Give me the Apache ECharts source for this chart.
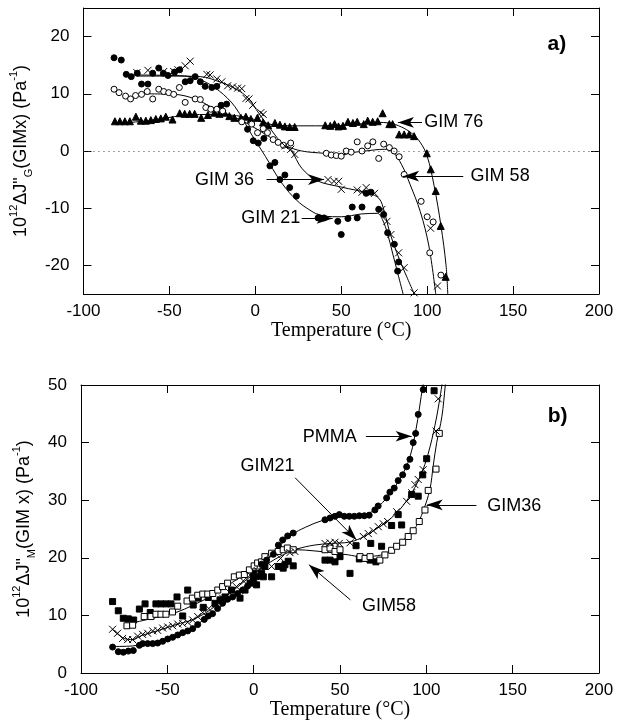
<!DOCTYPE html>
<html lang="en">
<head>
<meta charset="UTF-8">
<title>GIM compliance vs temperature</title>
<script src="https://cdn.jsdelivr.net/npm/echarts@6/dist/echarts.min.js"></script>
<style>
  html, body { margin: 0; padding: 0; background: #fff; }
  #main { width: 625px; height: 724px; }
</style>
</head>
<body>
<div id="main"></div>
<script>
// ---------- panel a) : 10^12 dJ''_G (GIMx) ----------
var gim21a = [[-82.2,16.3],[-78,15.9],[-75.1,13.4],[-72.2,13.0],[-68.7,13.6],[-66.2,11.7],[-62.5,11.7],[-59.7,13.6],[-56.2,14.5],
  [-53.5,13.6],[-50.8,13.2],[-47,13.8],[-44,14.2],[-40.8,12.1],[-37.9,12.3],[-35,13.0],[-32,12.1],[-29.2,11.3],[-25.3,11.1],
  [-22.4,11.3],[-19.9,8.0],[-16.7,8.2],[-4.5,3.8],[-1.2,1.8],[1.7,1.4],[5,2.2],[8.5,-2.6],[11.4,-2.0],[14.3,-5.0],[17.2,-4.2],
  [20,-6.4],[23.9,-7.9],[36.5,-11.7],[40,-11.7],[48,-12.3],[50,-14.6],[53.9,-11.8],[56.4,-9.8],[59.3,-11.7],[62.1,-9.8],
  [64.5,-7.4],[67.3,-7.2],[71.8,-10.2],[74.7,-11.1],[77,-14.3],[80.9,-16.3],[83.4,-19.4],[82.8,-21.0]];
var gim36a = [[-68.9,13.7],[-62.5,14.1],[-53.3,13.9],[-47.5,13.9],[-45,14.2],[-40.8,14.9],[-37.9,15.7],[-28.2,13.4],[-26.3,13.3],
  [-22.4,12.6],[-19.5,12.1],[-16.1,11.4],[-13.2,11.2],[-10.3,11.0],[-7.9,10.9],[-5.4,9.2],[-3.7,9.1],[-1.5,8.0],[3.2,6.7],
  [4.6,6.4],[17.2,0.9],[20.6,0.3],[23,-0.6],[42.3,-5.0],[45.8,-5.3],[48.5,-5.3],[50,-6.7],[59.3,-6.8],[62.1,-7.2],[64.5,-6.4],
  [69.4,-7.4],[73.7,-10.2],[76.6,-12.3],[78.9,-14.6],[83.4,-17.8],[86.6,-20.4],[92.4,-24.8],[102,-13.5],[106,-23.6]];
var gim58a = [[-82.2,10.8],[-79.3,10.2],[-75.5,9.6],[-72.6,9.1],[-69.7,9.7],[-66.2,9.9],[-62.9,10.4],[-59.7,9.1],[-56.2,10.8],
  [-53.3,10.4],[-50.4,10.2],[-47.5,9.9],[-44.2,11.1],[-40.8,8.5],[-35,9.1],[-32,9.0],[-28.8,7.6],[-25.9,7.3],[-22.4,7.3],
  [-19,7.0],[-7.9,5.1],[-2.1,4.7],[1.3,3.2],[4.6,3.9],[7.1,3.2],[10.4,2.0],[13.3,1.5],[16.4,1.0],[20.6,1.4],[41.3,-0.4],
  [44.2,-0.7],[47.1,-0.8],[50,-0.9],[52.9,0],[55.8,-0.2],[59.3,1.6],[62.1,0],[65.4,0.9],[68.4,1.6],[71.8,-1.3],[74.7,1.2],
  [78,0.6],[80.8,0],[83.7,-1.0],[86.6,-4.1],[96.5,-8.8],[100,-11.5],[103.5,-12.4],[101.5,-17.8],[108,-21.7]];
var gim76a = [[-81.7,5.2],[-78.8,5.2],[-75.9,5.2],[-73,5.2],[-69.5,6.0],[-66.6,5.3],[-63.7,5.3],[-60.8,5.4],[-57.9,5.6],
  [-55,5.7],[-52.1,6.0],[-48.2,5.5],[-44,6.6],[-41.1,6.5],[-38.2,6.5],[-35.3,6.5],[-31.5,5.8],[-27.6,6.3],[-23.8,6.7],
  [-20.9,6.5],[-18,6.7],[-15.1,6.1],[-12.2,5.8],[-8.4,5.8],[-5.5,6.0],[-2.6,5.6],[1.2,5.8],[4.5,5.0],[7.5,4.5],[11.4,4.9],
  [14.3,4.6],[17.2,4.3],[20,4.2],[22.9,4.2],[40.7,4.5],[43.6,4.4],[46.1,4.7],[48.4,4.3],[51,4.4],[53.9,5.1],[56.8,4.9],
  [59.3,5.1],[63.1,4.7],[65.4,5.3],[68.3,5.1],[71.2,5.2],[74.1,6.6],[78,4.7],[79.9,4.7],[83.7,2.9],[86.6,2.9],[89.5,2.9],
  [92.4,2.6],[99.8,-0.4],[102.1,-3.2],[105,-7.0],[107.9,-13.1],[110.8,-22.0]];

// fitted curves
var fit21a = [[-70,13.3],[-50,13.2],[-38,13.0],[-30,12.2],[-21,10.5],[-12,7.8],[-2,2.8],[6,-1],[14,-5],[22,-8],[30,-10],
  [40,-11.4],[50,-11.5],[62,-11],[71,-10.9],[74,-12],[77,-14.5],[80,-18],[83,-21.5],[86,-25]];
var fit36a = [[-69,13.1],[-50,13.1],[-32,13.0],[-20,12.0],[-11,10.8],[-4,9.2],[2,6.6],[8,4.2],[15,1.5],[21,0],[27,-3],
  [36,-5.2],[50,-6.3],[66,-7.4],[72,-8.3],[75,-10.5],[78,-14],[82,-17.5],[86,-20.5],[92.5,-25]];
var fit58a = [[-68,10],[-47,9.9],[-35,9.1],[-25,7.6],[-15,6.3],[-4,4.7],[7,2.7],[17,1.0],[27,0],[40,-0.4],[50,-0.7],
  [56,-0.3],[64,0],[75,0.3],[80,-0.2],[85,-2.3],[90,-5.8],[96,-10.6],[101,-16.6],[105,-25]];
var fit76a = [[-82,4.8],[-62,5.3],[-42,6.2],[-23,6.4],[-7,6.0],[5,5.0],[12,4.5],[25,4.4],[45,4.4],[60,4.7],[71,5.0],
  [78,4.9],[85,4.2],[91,3.1],[96,1.5],[100,-0.9],[104,-6],[108,-13],[111,-20],[112,-25]];
var ticksA = [-20, -10, 0, 10, 20];

// ---------- panel b) : 10^12 dJ''_M (GIM x) ----------
var pmmaB = [[-81.7,4.5],[-78.4,3.7],[-75.5,3.6],[-72.6,3.8],[-69.7,3.9],[-66.2,4.8],[-64.3,5.1],[-61.4,5.1],[-58.5,5.1],
  [-55.6,5.2],[-52.7,5.5],[-49.8,5.9],[-46.9,6.2],[-44,6.6],[-41.1,7.0],[-38.2,7.3],[-35.3,7.7],[-32.4,8.4],[-28.6,9.3],
  [-26.3,9.9],[-23.8,10.3],[-20.9,11.2],[-18,12.1],[-15.1,12.8],[-12.2,13.2],[-9.3,13.8],[-6.4,14.4],[-3.5,15.1],[-0.6,15.9],
  [2.3,16.7],[4.6,18.9],[7.5,19.6],[11.4,20.6],[14.3,22.2],[16.8,23.1],[19.7,23.8],[22.9,24.3],[41.3,26.6],[44.2,26.9],
  [47.1,27.2],[49.6,27.5],[52.5,27.2],[55.4,27.2],[58.3,27.2],[61.2,27.3],[64.1,27.3],[66.9,27.4],[70.2,28.3],[72.1,29.0],
  [77,30.4],[78.9,31.4],[81.4,32.1],[83.7,33.4],[86.3,34.4],[88.6,35.8],[90.5,37.1],[92.4,40.0],[93.8,41.6],[95.3,44.9],[98.2,49.2]];
var gim21b = [[-81.7,7.6],[-78.8,6.9],[-75.9,6.0],[-73,5.8],[-70.1,5.8],[-67.2,6.4],[-64.3,6.7],[-61.4,6.9],[-58.5,7.3],
  [-55.6,7.4],[-52.7,7.8],[-49.8,8.0],[-46.9,8.2],[-44,8.5],[-41.1,8.6],[-38.2,8.8],[-35.3,9.2],[-32.4,9.8],[-29.5,10.5],
  [-26,11.2],[-22,12],[-18,13],[-14,14],[-10,15],[-6,16],[-2,17],[2,17.8],[6,18.5],[10.4,18.5],[15.6,19.9],[21,20.9],
  [23.9,21.1],[41.3,22.5],[44.2,22.6],[47.1,22.7],[49.6,22.5],[55.8,22.6],[63.5,23.7],[66.4,24.2],[69.3,24.7],[72.2,25.4],
  [75.1,25.9],[77.6,26.3],[82.8,28.0],[88.6,29.8],[91.5,31.3],[93.4,32.7],[95.3,33.6],[98.2,35.3],[105.6,42.0],[106.9,47.6]];
var gim36b = [[-73.4,8.2],[-70.1,8.3],[-63.4,9.8],[-59.5,9.8],[-56.6,10.2],[-53.7,10.2],[-50.8,10.2],[-47,10.6],[-44,11.6],
  [-38.6,12.5],[-35.5,13.0],[-32.4,13.5],[-29.5,13.7],[-26.6,13.7],[-23.7,13.8],[-20.8,14.4],[-18,15.0],[-15.1,15.6],
  [-11.2,16.7],[-8.3,17.0],[-5.4,17.1],[-2.5,17.9],[0.3,18.6],[2.3,19.1],[4.6,19.3],[6.5,20.2],[10.4,20.8],[14.2,21.1],
  [17.1,21.4],[19.5,21.7],[22.9,21.4],[41.3,21.4],[44.2,21.7],[47.1,21.1],[50,21.4],[61.6,20.2],[64.5,19.9],[67.4,20.2],
  [73.1,19.6],[76,20.5],[79.9,21.3],[82.8,22.0],[86.3,22.7],[89.5,23.7],[92.4,24.7],[95.9,26.3],[99.2,28.3],[101.1,31.7],
  [105.6,35.4],[107.5,41.6]];
var gim58b = [[-81.7,12.4],[-78.4,10.8],[-75.5,9.5],[-72.6,9.4],[-69.5,9.2],[-66.2,11.1],[-62.9,12.0],[-59.9,10.5],[-56.6,12.0],
  [-53.7,12.0],[-50.8,12.0],[-47.9,12.0],[-44.4,13.2],[-41.1,9.9],[-38.2,14.4],[-35,11.8],[-32.1,13.0],[-29.2,11.4],[-26.3,13.1],
  [-22.4,12.1],[-19.5,12.7],[-16.6,13.2],[-12.8,14.4],[-7.9,13.0],[-5,14.4],[-2.1,15.6],[-0.2,17.3],[-0.2,16.2],[1.7,15.3],
  [4.6,17.3],[5.6,16.7],[6.5,18.5],[10.4,16.7],[14.3,18.5],[17.1,18.2],[18.1,18.8],[20,19.4],[22.9,18.6],[41.3,19.6],
  [44.2,19.6],[47.1,19.3],[50,20.2],[55.8,17.3],[59.3,22.1],[61.2,19.8],[64.5,19.9],[67.4,19.6],[67.8,22.5],[70.8,19.3],
  [74.1,22.0],[79.9,25.6],[83.7,27.5],[85.7,25.7],[91.5,31.0],[95.3,30.7],[97.9,34.4],[100.2,37.2],[104.5,49.0]];

var fitPmmaB = [[-82,4.6],[-70,4.7],[-62,5.1],[-50,5.9],[-40,7.1],[-30,9.0],[-20,11.3],[-10,13.8],[0,16.5],[5,18.6],[10,20.4],
  [15,22.1],[22,24.0],[30,25.3],[40,26.5],[50,27.1],[60,27.4],[67,27.8],[72,28.8],[77,30.4],[82,32.4],[86,34.4],[89,36.2],
  [92,39.2],[95,44],[97,48],[98.7,51]];
var fit21b = [[-82,7.6],[-75,6.0],[-70,5.8],[-65,6.5],[-55,7.4],[-45,8.4],[-35,9.3],[-25,11],[-15,13.5],[-5,16],[5,18.3],
  [15,20.2],[25,21.5],[35,22.2],[45,22.5],[55,22.7],[62,23.4],[70,24.8],[78,26.5],[85,28.5],[92,31.5],[97,34.5],[101,38],
  [105,43],[108,48],[110,52]];
var fit36b = [[-73,8.5],[-60,9.4],[-45,10.5],[-35,11.8],[-28,12.8],[-20,14.2],[-12,15.8],[-5,17.2],[2,18.7],[10,20.2],
  [17,21.1],[25,21.4],[35,21.2],[45,20.9],[55,20.5],[62,20.2],[70,20.3],[77,20.8],[83,22],[89,23.8],[94,25.4],[98,28],
  [102,31.8],[104,36],[106,40],[109,44.5],[111,50],[112,53]];

var myChart = echarts.init(document.getElementById('main'));
var sans = 'Liberation Sans', serif = 'Liberation Serif';
var ink = '#000';

// rich text for the rotated y titles (super / subscripts)
var nameRich = {
  n: { fontFamily: sans, fontSize: 18, color: ink, lineHeight: 26 },
  sup: { fontFamily: sans, fontSize: 11, color: ink, lineHeight: 12, verticalAlign: 'top' },
  sub: { fontFamily: sans, fontSize: 11, color: ink, lineHeight: 12, verticalAlign: 'bottom' }
};

function xAx(gi, pos) {
  var ax = {
    gridIndex: gi, type: 'value', min: -100, max: 200, interval: 50, position: pos,
    axisLine: { onZero: false, lineStyle: { color: ink, width: 1 } },
    axisTick: { inside: true, length: 8, lineStyle: { color: ink } },
    axisLabel: { show: pos === 'bottom', margin: 9, fontFamily: sans, fontSize: 17, color: ink },
    splitLine: { show: false }
  };
  if (pos === 'bottom') {
    ax.name = 'Temperature (°C)';
    ax.nameLocation = 'middle';
    ax.nameGap = 27;
    ax.nameTextStyle = { fontFamily: serif, fontSize: 20, color: ink };
  }
  return ax;
}
function yAx(gi, pos, min, max, ticks, name) {
  var ax = {
    gridIndex: gi, type: 'value', min: min, max: max, position: pos,
    axisLine: { onZero: false, lineStyle: { color: ink, width: 1 } },
    axisTick: { inside: true, length: 8, lineStyle: { color: ink } },
    axisLabel: { show: pos === 'left', margin: 14, fontFamily: sans, fontSize: 17, color: ink },
    splitLine: { show: false }
  };
  if (ticks) { ax.axisTick.customValues = ticks; ax.axisLabel.customValues = ticks; }
  else ax.interval = 10;
  if (name) {
    ax.name = name; ax.nameLocation = 'middle'; ax.nameRotate = 90; ax.nameGap = 42;
    ax.nameTextStyle = { rich: nameRich };
  }
  return ax;
}

function pts(data, xi, symbol, size, fill) {
  return { type: 'scatter', data: data, xAxisIndex: xi, yAxisIndex: xi, symbol: symbol, symbolSize: size,
    itemStyle: { color: fill, borderColor: ink, borderWidth: 1, opacity: 1 }, silent: true, z: 3 };
}
function fit(data, xi) {
  return { type: 'line', data: data, xAxisIndex: xi, yAxisIndex: xi, smooth: 0.35, showSymbol: false, symbol: 'none',
    lineStyle: { color: ink, width: 1 }, silent: true, z: 2 };
}
var cross = 'path://M0,0L10,10M10,0L0,10';

// labels and arrows, in data units
function notes(xi, texts, arrows, zeroLine) {
  var s = { type: 'line', data: [], xAxisIndex: xi, yAxisIndex: xi, silent: true, z: 4,
    markPoint: { silent: true, animation: false, data: texts.map(function (t) {
      return { coord: t.at, symbol: 'circle', symbolSize: 1, itemStyle: { color: 'rgba(0,0,0,0)' },
        label: { show: true, position: t.pos, distance: 0, formatter: t.text, fontFamily: sans,
          fontSize: t.size || 18, fontWeight: t.bold ? 'bold' : 'normal', color: ink } };
    }) },
    markLine: { silent: true, animation: false, symbol: ['none', 'arrow'], symbolSize: [8, 16],
      label: { show: false }, lineStyle: { color: ink, width: 1, type: 'solid' }, itemStyle: { color: ink },
      data: arrows.map(function (a) { return [{ coord: a[0] }, { coord: a[1] }]; }) }
  };
  if (zeroLine) {
    s.markLine.data.push([{ coord: [-100, 0], symbol: 'none', lineStyle: { type: [1, 4], color: '#444' } },
      { coord: [200, 0], symbol: 'none' }]);
  }
  return s;
}

option = {
  backgroundColor: '#fff',
  animation: false,
  grid: [
    { left: 81, right: 26, top: 8, height: 286 },
    { left: 81, right: 26, top: 385, height: 288 }
  ],
  xAxis: [xAx(0, 'bottom'), xAx(0, 'top'), xAx(1, 'bottom'), xAx(1, 'top')],
  yAxis: [
    yAx(0, 'left', -25, 25, ticksA, '{n|10}{sup|12}{n|ΔJ"}{sub|G}{n|(GIMx) (Pa}{sup|-1}{n|)}'),
    yAx(0, 'right', -25, 25, ticksA),
    yAx(1, 'left', 0, 50, null, '{n|10}{sup|12}{n|ΔJ"}{sub|M}{n|(GIM x) (Pa}{sup|-1}{n|)}'),
    yAx(1, 'right', 0, 50, null)
  ],
  series: [
    fit(fit21a, 0), fit(fit36a, 0), fit(fit58a, 0), fit(fit76a, 0),
    pts(gim76a, 0, 'triangle', 7, ink),
    pts(gim58a, 0, 'circle', 6, '#fff'),
    pts(gim36a, 0, cross, 7, 'none'),
    pts(gim21a, 0, 'circle', 6, ink),
    notes(0, [
      { text: 'GIM 76', at: [98, 5.0], pos: 'right' },
      { text: 'GIM 58', at: [125, -4.4], pos: 'right' },
      { text: 'GIM 36', at: [-0.5, -5.0], pos: 'left' },
      { text: 'GIM 21', at: [26.5, -11.8], pos: 'left' },
      { text: 'a)', at: [175.5, 18.7], pos: 'inside', size: 21, bold: true }
    ], [
      [[97, 5.0], [83, 5.0]],
      [[121, -4.4], [86, -4.4]],
      [[6.5, -5.0], [40, -5.0]],
      [[27, -11.8], [45, -11.8]]
    ], true),

    fit(fitPmmaB, 2), fit(fit21b, 2), fit(fit36b, 2),
    pts(gim58b, 2, 'rect', 6, ink),
    pts(gim36b, 2, 'rect', 6, '#fff'),
    pts(gim21b, 2, cross, 7, 'none'),
    pts(pmmaB, 2, 'circle', 6, ink),
    notes(2, [
      { text: 'PMMA', at: [60, 41], pos: 'left' },
      { text: 'GIM21', at: [8, 36], pos: 'inside' },
      { text: 'GIM36', at: [135, 29], pos: 'right' },
      { text: 'GIM58', at: [62.5, 11.6], pos: 'right' },
      { text: 'b)', at: [176, 44.6], pos: 'inside', size: 21, bold: true }
    ], [
      [[65, 41.1], [91.5, 41.1]],
      [[24, 33.9], [59.6, 23.1]],
      [[129, 29.2], [100.2, 29.2]],
      [[56, 12.7], [32, 18.8]]
    ], false)
  ]
};
myChart.setOption(option);
</script>
</body>
</html>
